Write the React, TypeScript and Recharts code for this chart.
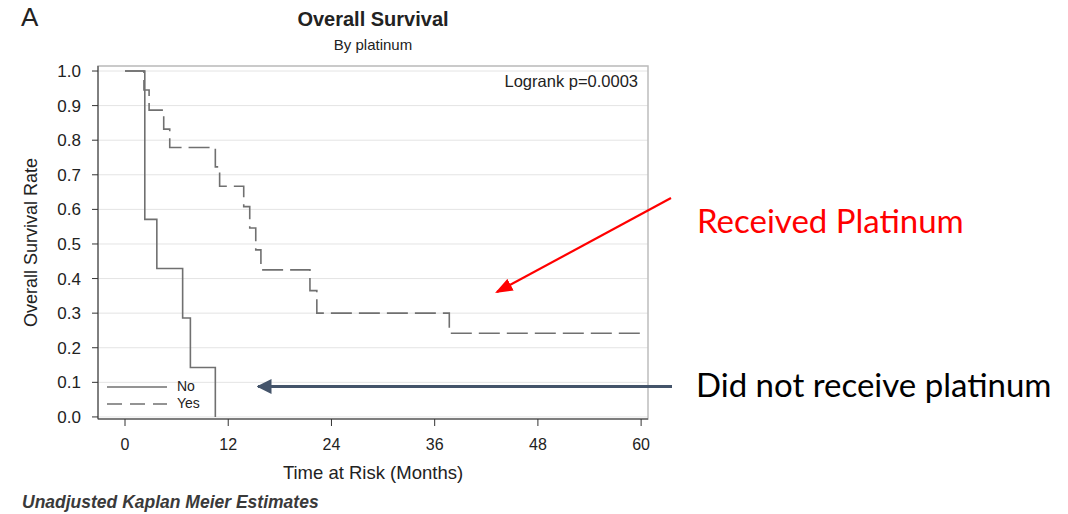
import React from 'react';
import { LineChart, Line, XAxis, YAxis, CartesianGrid, ReferenceArea, Legend, Label } from 'recharts';

// Kaplan-Meier step points (months, survival rate)
const noTimes = [0, 2.3, 3.7, 6.7, 7.6, 10.5];
const noSurvival = [1, 0.571, 0.429, 0.286, 0.143, 0];

const yesTimes = [0, 2.2, 2.8, 4.5, 5.2, 10.5, 11.0, 13.8, 14.5, 15.2, 15.8, 21.5, 22.3, 37.7, 60];
const yesSurvival = [1, 0.945, 0.887, 0.832, 0.779, 0.723, 0.667, 0.608, 0.546, 0.483, 0.425, 0.365, 0.3, 0.242, 0.242];

const xTicks = [0, 12, 24, 36, 48, 60];
const yTicks = [0, 0.1, 0.2, 0.3, 0.4, 0.5, 0.6, 0.7, 0.8, 0.9, 1.0];

const xDomain: [number, number] = [-3.14, 60.8];
const yDomain: [number, number] = [-0.006, 1.0145];

const noData = noTimes.map((t, i) => ({ t, s: noSurvival[i] }));
const yesData = yesTimes.map((t, i) => ({ t, s: yesSurvival[i] }));

const FONT = '"Liberation Sans", Arial, sans-serif';
const CURVE = '#707070';
const CALLOUT = 'Lato, "Open Sans", sans-serif';

const LegendBox = () => (
  <div style={{ fontFamily: FONT, fontSize: 14, color: '#222', lineHeight: '17px' }}>
    <div style={{ display: 'flex', alignItems: 'center' }}>
      <svg width={64} height={17}>
        <line x1={2} y1={9} x2={62} y2={9} stroke={CURVE} strokeWidth={1.5} />
      </svg>
      <span style={{ marginLeft: 8 }}>No</span>
    </div>
    <div style={{ display: 'flex', alignItems: 'center' }}>
      <svg width={64} height={17}>
        <line x1={2} y1={9} x2={62} y2={9} stroke={CURVE} strokeWidth={1.5} strokeDasharray="15 8" />
      </svg>
      <span style={{ marginLeft: 8 }}>Yes</span>
    </div>
  </div>
);

export default function App() {
  return (
    <div style={{ position: 'absolute', left: 0, top: 0, width: 1068, height: 514, background: '#fff', fontFamily: FONT }}>
      <div style={{ position: 'absolute', left: 21, top: 2, fontSize: 26, color: '#222' }}>A</div>
      <div style={{ position: 'absolute', left: 223, width: 300, top: 8, textAlign: 'center', fontSize: 20, fontWeight: 'bold', color: '#222' }}>
        Overall Survival
      </div>
      <div style={{ position: 'absolute', left: 223, width: 300, top: 36, textAlign: 'center', fontSize: 15, color: '#222' }}>
        By platinum
      </div>

      <LineChart width={1068} height={514} margin={{ top: 66, right: 420, bottom: 65, left: 38 }}>
        <CartesianGrid vertical={false} stroke="#e4e4e4" />
        <ReferenceArea x1={xDomain[0]} x2={xDomain[1]} y1={yDomain[0]} y2={yDomain[1]} fill="none" stroke="#bdbdbd" strokeWidth={1.5} />
        <XAxis
          dataKey="t"
          type="number"
          domain={xDomain}
          ticks={xTicks}
          allowDataOverflow
          height={30}
          tickSize={7}
          tickMargin={13}
          stroke="#333"
          tick={{ fill: '#222', fontSize: 16, fontFamily: FONT }}
        >
          <Label value="Time at Risk (Months)" position="bottom" offset={17} fill="#222" fontSize={18.5} fontFamily={FONT} />
        </XAxis>
        <YAxis
          type="number"
          domain={yDomain}
          ticks={yTicks}
          allowDataOverflow
          width={60}
          tickSize={6}
          tickMargin={11}
          stroke="#333"
          tickFormatter={(v: number) => v.toFixed(1)}
          tick={{ fill: '#222', fontSize: 17, fontFamily: FONT }}
        >
          <Label value="Overall Survival Rate" angle={-90} position="insideLeft" offset={-7} fill="#222" fontSize={18} fontFamily={FONT} style={{ textAnchor: 'middle' }} />
        </YAxis>
        <Legend
          layout="vertical"
          align="center"
          verticalAlign="middle"
          content={() => <LegendBox />}
          wrapperStyle={{ left: 105, top: 378, width: 120 }}
        />
        <Line data={noData} dataKey="s" name="No" type="stepAfter" stroke={CURVE} strokeWidth={1.6} dot={false} isAnimationActive={false} />
        <Line data={yesData} dataKey="s" name="Yes" type="stepAfter" stroke={CURVE} strokeWidth={1.6} strokeDasharray="21 7" dot={false} isAnimationActive={false} />
      </LineChart>

      <div style={{ position: 'absolute', right: 1068 - 638, top: 72, fontSize: 16.5, color: '#222', whiteSpace: 'nowrap' }}>
        Logrank p=0.0003
      </div>
      <div style={{ position: 'absolute', left: 22, top: 492, fontSize: 17.5, fontWeight: 'bold', fontStyle: 'italic', color: '#3a3a3a', whiteSpace: 'nowrap' }}>
        Unadjusted Kaplan Meier Estimates
      </div>

      <div style={{ position: 'absolute', left: 697, top: 200, fontSize: 33, lineHeight: 'normal', fontFamily: CALLOUT, color: '#ff0000', whiteSpace: 'nowrap' }}>
        Received Platinum
      </div>
      <div style={{ position: 'absolute', left: 696, top: 364, fontSize: 33, lineHeight: 'normal', fontFamily: CALLOUT, color: '#000', whiteSpace: 'nowrap' }}>
        Did not receive platinum
      </div>

      <svg width={1068} height={514} style={{ position: 'absolute', left: 0, top: 0, pointerEvents: 'none' }}>
        <defs>
          <marker id="redHead" markerWidth="8" markerHeight="6" refX="7" refY="3" orient="auto" markerUnits="strokeWidth">
            <path d="M0,0 L8,3 L0,6 Z" fill="#ff0000" />
          </marker>
          <marker id="blueHead" markerWidth="5" markerHeight="5" refX="4.5" refY="2.5" orient="auto" markerUnits="strokeWidth">
            <path d="M0,0 L5,2.5 L0,5 Z" fill="#44546a" />
          </marker>
        </defs>
        <line x1={671} y1={198} x2={497} y2={292} stroke="#ff0000" strokeWidth={2.2} markerEnd="url(#redHead)" />
        <line x1={672} y1={386.5} x2={258} y2={386.5} stroke="#44546a" strokeWidth={3} markerEnd="url(#blueHead)" />
      </svg>
    </div>
  );
}
